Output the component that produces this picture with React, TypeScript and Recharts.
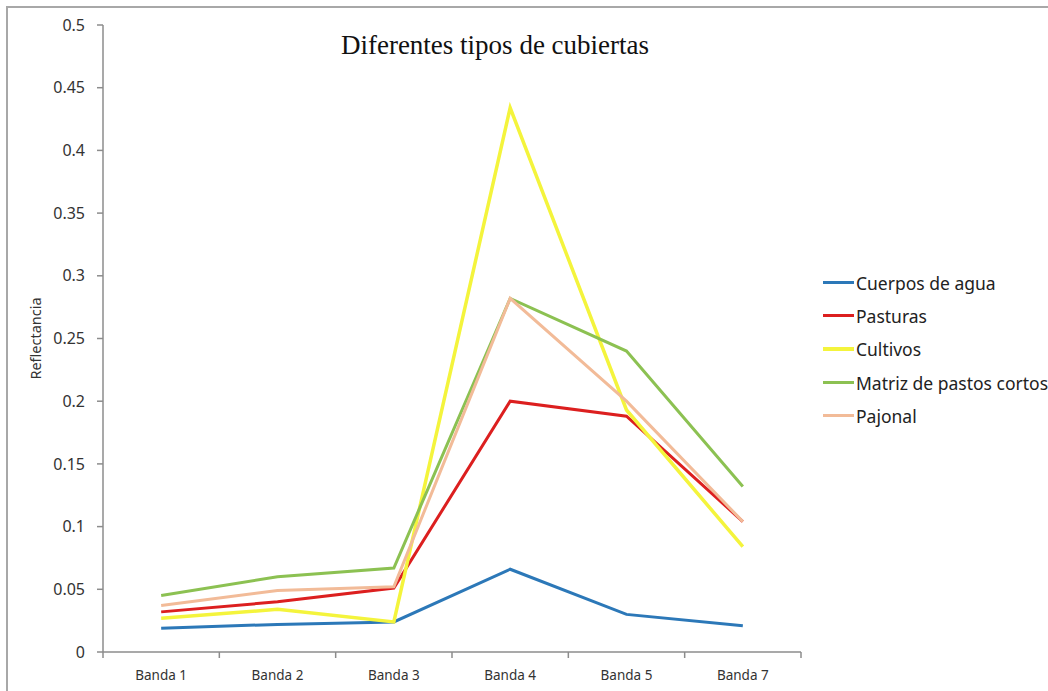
import React from "react";
import { LineChart, Line, XAxis, YAxis } from "recharts";

const bands = ["Banda 1", "Banda 2", "Banda 3", "Banda 4", "Banda 5", "Banda 7"];
const cuerposDeAgua = [0.019, 0.022, 0.024, 0.066, 0.03, 0.021];
const pasturas = [0.032, 0.04, 0.051, 0.2, 0.188, 0.104];
const cultivos = [0.027, 0.034, 0.024, 0.434, 0.193, 0.084];
const matrizPastosCortos = [0.045, 0.06, 0.067, 0.282, 0.24, 0.132];
const pajonal = [0.037, 0.049, 0.052, 0.282, 0.2, 0.104];
const yTicks = [0, 0.05, 0.1, 0.15, 0.2, 0.25, 0.3, 0.35, 0.4, 0.45, 0.5];

const series = [
  { key: "agua", name: "Cuerpos de agua", color: "#2c78b8", values: cuerposDeAgua },
  { key: "pasturas", name: "Pasturas", color: "#dc1f1f", values: pasturas },
  { key: "cultivos", name: "Cultivos", color: "#f4f43c", values: cultivos },
  { key: "matriz", name: "Matriz de pastos cortos", color: "#8cc152", values: matrizPastosCortos },
  { key: "pajonal", name: "Pajonal", color: "#f2bb98", values: pajonal },
];

const data = bands.map((b, i) => {
  const row: Record<string, string | number> = { band: b };
  series.forEach((s) => (row[s.key] = s.values[i]));
  return row;
});

const W = 1048;
const H = 691;
const M = { top: 25, right: 247, bottom: 9, left: 43 };
const Y_W = 60;
const PLOT_W = W - M.left - M.right - Y_W;
const BW = PLOT_W / bands.length;
const AXIS = "#8c8c8c";
const FONT = "'Noto Sans', sans-serif";

function BandTick(props: any) {
  const { x, y, payload, index } = props;
  return (
    <g>
      <line x1={x - BW / 2} x2={x - BW / 2} y1={y} y2={y + 6} stroke={AXIS} strokeWidth={1.5} />
      {index === bands.length - 1 && (
        <line x1={x + BW / 2} x2={x + BW / 2} y1={y} y2={y + 6} stroke={AXIS} strokeWidth={1.5} />
      )}
      <text x={x} y={y + 28} textAnchor="middle" fontSize={13.5} fill="#333" fontFamily={FONT}>
        {payload.value}
      </text>
    </g>
  );
}

function LegendBox() {
  return (
    <div
      style={{
        position: "absolute",
        left: 823,
        top: 266,
        fontFamily: FONT,
        fontSize: 17.5,
        color: "#222",
        whiteSpace: "nowrap",
      }}
    >
      {series.map((s) => (
        <div key={s.key} style={{ display: "flex", alignItems: "center", height: 33.3 }}>
          <span
            style={{
              display: "inline-block",
              width: 31,
              height: s.key === "cultivos" ? 4 : 3,
              background: s.color,
              marginRight: 2,
            }}
          />
          <span>{s.name}</span>
        </div>
      ))}
    </div>
  );
}

export default function App() {
  return (
    <div style={{ position: "relative", width: W, height: H, overflow: "hidden", background: "#fff" }}>
      <style>{`body{margin:0;overflow:hidden}`}</style>
      <div
        style={{
          position: "absolute",
          left: 6,
          top: 6,
          width: 1100,
          height: 800,
          border: "2px solid #a8a8a8",
        }}
      />
      <div
        style={{
          position: "absolute",
          left: 0,
          width: 990,
          top: 30,
          textAlign: "center",
          fontFamily: "'Liberation Serif', 'Times New Roman', serif",
          fontSize: 27,
          color: "#111",
        }}
      >
        Diferentes tipos de cubiertas
      </div>
      <div style={{ position: "absolute", left: 0, top: 0 }}>
        <LineChart width={W} height={H} data={data} margin={M}>
          <XAxis
            dataKey="band"
            height={30}
            padding={{ left: BW / 2, right: BW / 2 }}
            axisLine={{ stroke: AXIS, strokeWidth: 1.5 }}
            tickLine={false}
            tickSize={0}
            tickMargin={0}
            tick={<BandTick />}
            interval={0}
          />
          <YAxis
            width={Y_W}
            domain={[0, 0.5]}
            ticks={yTicks}
            interval={0}
            axisLine={{ stroke: AXIS, strokeWidth: 1.5 }}
            tickLine={{ stroke: AXIS, strokeWidth: 1.5 }}
            tickSize={6}
            tickMargin={12}
            tick={{ fontSize: 16, fill: "#333", fontFamily: FONT }}
            label={{
              value: "Reflectancia",
              angle: -90,
              position: "insideLeft",
              offset: -7,
              style: { textAnchor: "middle", fontSize: 14.5, fill: "#333", fontFamily: FONT },
            }}
          />
          {series.map((s) => (
            <Line
              key={s.key}
              dataKey={s.key}
              name={s.name}
              stroke={s.color}
              strokeWidth={s.key === "cultivos" ? 3.5 : 3}
              dot={false}
              activeDot={false}
              isAnimationActive={false}
            />
          ))}
        </LineChart>
      </div>
      <LegendBox />
    </div>
  );
}
